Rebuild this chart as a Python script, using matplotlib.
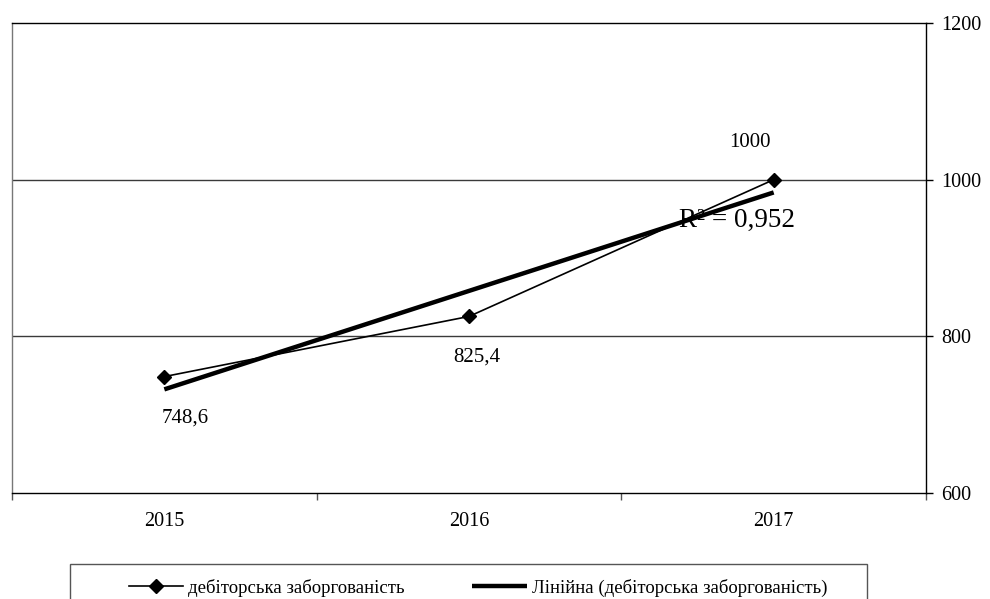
import numpy as np
import matplotlib
matplotlib.use("Agg")
import matplotlib.pyplot as plt
from matplotlib.patches import Rectangle

plt.rcParams['font.family'] = ['Liberation Serif', 'DejaVu Serif']

years = ['2015', '2016', '2017']
receivables = [748.6, 825.4, 1000.0]
value_labels = ['748,6', '825,4', '1000']
y_ticks = [600, 800, 1000, 1200]
series_name = 'дебіторська заборгованість'
trend_name = 'Лінійна (дебіторська заборгованість)'

x = np.arange(len(years))
y = np.array(receivables)
slope, intercept = np.polyfit(x, y, 1)
trend = slope * x + intercept
r2 = 1 - np.sum((y - trend) ** 2) / np.sum((y - y.mean()) ** 2)

fig = plt.figure(figsize=(9.9, 5.99), dpi=100)
ax = fig.add_axes([12 / 990, 1 - 493 / 599, (926 - 12) / 990, (493 - 23) / 599])

ax.set_xlim(-0.5, len(years) - 0.5)
ax.set_ylim(y_ticks[0], y_ticks[-1])

# gridlines
for t in y_ticks[1:-1]:
    ax.axhline(t, color='#3a3a3a', lw=1.0, zorder=1)

line1, = ax.plot(x, y, color='black', lw=1.2, marker='D', ms=7,
                 zorder=4, label=series_name)
line2, = ax.plot(x, trend, color='black', lw=3.2, zorder=5,
                 solid_capstyle='butt', label=trend_name)

ax.text(1.879, 948.5, 'R² = ' + f'{r2:.3f}'.replace('.', ','),
        fontsize=19.5, ha='center', va='center', zorder=3)

offsets = [(14.8, -29.5), (5.8, -29.5), (-17.3, 26.6)]
for xi, yi, lab, off in zip(x, y, value_labels, offsets):
    ax.annotate(lab, (xi, yi), xytext=off, textcoords='offset points',
                ha='center', va='center', fontsize=15)

# axes styling
ax.yaxis.tick_right()
ax.set_yticks(y_ticks)
ax.tick_params(axis='y', direction='out', length=5, width=1, pad=6,
               labelsize=14.5, colors='black')
ax.set_xticks(x)
ax.set_xticklabels(years)
ax.set_xticks(np.arange(-0.5, len(years), 1.0), minor=True)
ax.tick_params(axis='x', which='major', length=0, pad=14, labelsize=14.5)
ax.tick_params(axis='x', which='minor', direction='out', length=5, width=1,
               color='#555555')
for name, sp in ax.spines.items():
    sp.set_linewidth(1.0)
    sp.set_color('black')
ax.spines['left'].set_color('#777777')

# legend box below the plot
fig.patches.append(Rectangle((70 / 990, -0.05), (867 - 70) / 990,
                             1 - 564 / 599 + 0.05, transform=fig.transFigure,
                             fill=False, edgecolor='#555555', lw=1.0))
fig.legend(handles=[line1, line2], loc='center', ncol=2,
           bbox_to_anchor=(478 / 990, 1 - 588 / 599), frameon=False,
           fontsize=13.5, handlelength=2.9, handletextpad=0.28,
           columnspacing=3.6, borderpad=0, borderaxespad=0)

fig.savefig('out.png', dpi=100)
